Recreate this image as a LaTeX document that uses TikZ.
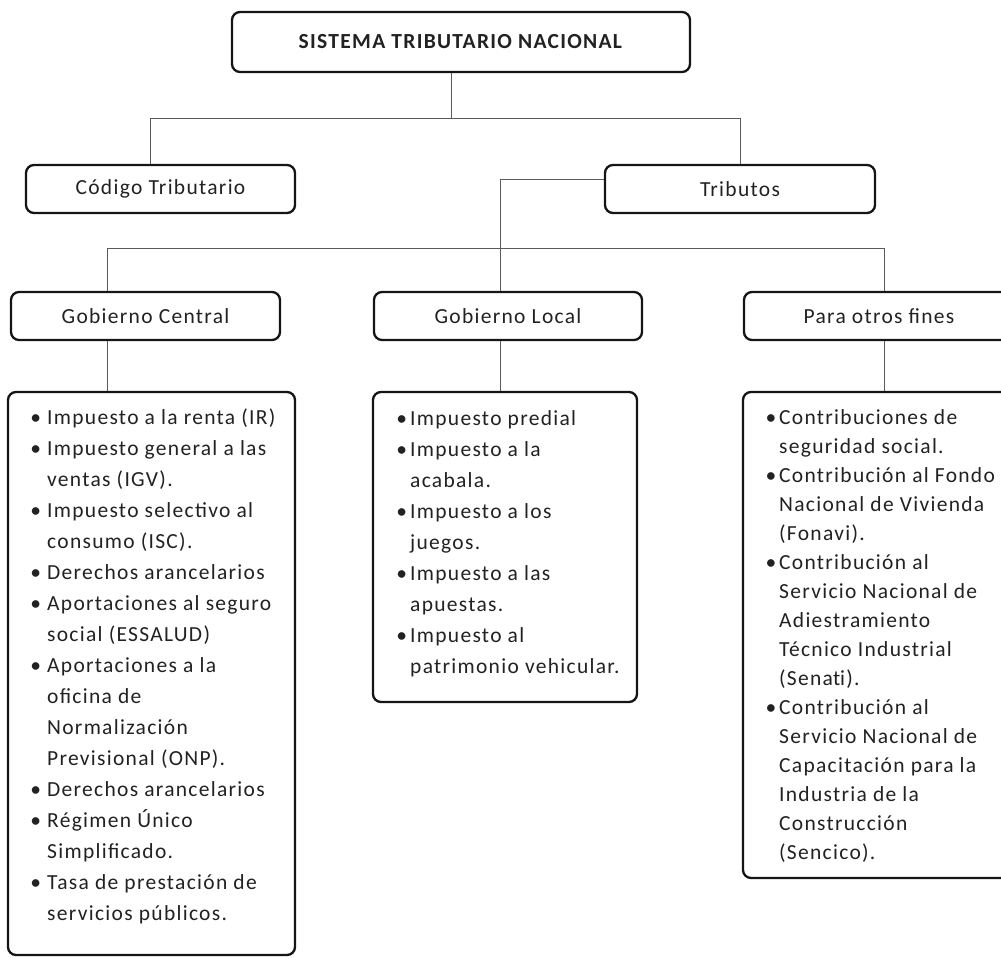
\documentclass[tikz,border=0pt]{standalone}
\usepackage{fontspec}
\setmainfont{Carlito}[LetterSpace=6]
\usetikzlibrary{positioning}
\definecolor{boxline}{HTML}{151515}
\definecolor{connline}{HTML}{5A5A5A}
\definecolor{txt}{HTML}{222222}
\newcommand{\itm}[1]{\llap{\textbullet\hspace{#1}}}
\tikzset{
  hbox/.style={draw=boxline, line width=2.3pt, rounded corners=8pt, fill=white, text=txt,
    font=\fontsize{21.5}{25}\selectfont, inner sep=0pt},
  lbox/.style={draw=boxline, line width=2.3pt, rounded corners=8pt, fill=white, inner sep=0pt},
  ltext/.style={anchor=west, align=left, inner sep=0pt, text=txt,
    font=\fontsize{21.5}{31}\selectfont},
  conn/.style={draw=connline, line width=1pt}
}
\begin{document}
\begin{tikzpicture}[x=1pt,y=-1pt]
\useasboundingbox (0,0) rectangle (1001,958);
% header boxes
\node[hbox, minimum width=458pt, minimum height=60pt] (stn) at (461,42) {\textbf{SISTEMA TRIBUTARIO NACIONAL}};
\node[hbox, minimum width=269pt, minimum height=48pt] (cod) at (160.5,189) {Código Tributario};
\node[hbox, minimum width=270pt, minimum height=48pt] (trib) at (740,189) {Tributos};
\node[hbox, minimum width=269pt, minimum height=48pt] (gc) at (145.5,316) {Gobierno Central};
\node[hbox, minimum width=268pt, minimum height=48pt] (gl) at (508,316) {Gobierno Local};
\node[hbox, minimum width=270pt, minimum height=48pt] (po) at (879,316) {Para otros fines};
% content boxes
\node[lbox, minimum width=287pt, minimum height=563pt] (gcb) at (151.5,673.5) {};
\node[lbox, minimum width=264pt, minimum height=310pt] (glb) at (505,547) {};
\node[lbox, minimum width=270pt, minimum height=486pt] (pob) at (878,635) {};
% texts
\node[ltext] (gct) at (47,666) {\itm{6pt}Impuesto a la renta (IR)\\
\itm{6pt}Impuesto general a las\\
ventas (IGV).\\
\itm{6pt}Impuesto selectivo al\\
consumo (ISC).\\
\itm{6pt}Derechos arancelarios\\
\itm{6pt}Aportaciones al seguro\\
social (ESSALUD)\\
\itm{6pt}Aportaciones a la\\
oficina de\\
Normalización\\
Previsional (ONP).\\
\itm{6pt}Derechos arancelarios\\
\itm{6pt}Régimen Único\\
Simplificado.\\
\itm{6pt}Tasa de prestación de\\
servicios públicos.};
\node[ltext] (glt) at (410,544) {\itm{3pt}Impuesto predial\\
\itm{3pt}Impuesto a la\\
acabala.\\
\itm{3pt}Impuesto a los\\
juegos.\\
\itm{3pt}Impuesto a las\\
apuestas.\\
\itm{3pt}Impuesto al\\
patrimonio vehicular.};
\node[ltext, font=\fontsize{21.5}{29}\selectfont] (pot) at (779,636) {\itm{3pt}Contribuciones de\\
seguridad social.\\
\itm{3pt}Contribución al Fondo\\
Nacional de Vivienda\\
(Fonavi).\\
\itm{3pt}Contribución al\\
Servicio Nacional de\\
Adiestramiento\\
Técnico Industrial\\
(Sena\kern0pt t\kern0pt i).\\
\itm{3pt}Contribución al\\
Servicio Nacional de\\
Capacitación para la\\
Industria de la\\
Construcción\\
(Sencico).};
% junction coordinates
\coordinate (j0) at (451,118);
\coordinate (jL) at (150,118);
\coordinate (jR) at (740,118);
\coordinate (tj) at (500,179);
\coordinate (bL) at (107,248);
\coordinate (bR) at (884,248);
% connectors
\draw[conn] (stn.south -| j0) -- (j0);
\draw[conn] (jL) -- (jR);
\draw[conn] (jL) -- (jL |- cod.north);
\draw[conn] (jR) -- (trib.north);
\draw[conn] (trib.west |- tj) -- (tj) -- (tj |- gl.north);
\draw[conn] (bL) -- (bR);
\draw[conn] (bL) -- (bL |- gc.north);
\draw[conn] (bR) -- (bR |- po.north);
\draw[conn] (gc.south -| bL) -- (bL |- gcb.north);
\draw[conn] (gl.south -| tj) -- (tj |- glb.north);
\draw[conn] (po.south -| bR) -- (bR |- pob.north);
\end{tikzpicture}
\end{document}
